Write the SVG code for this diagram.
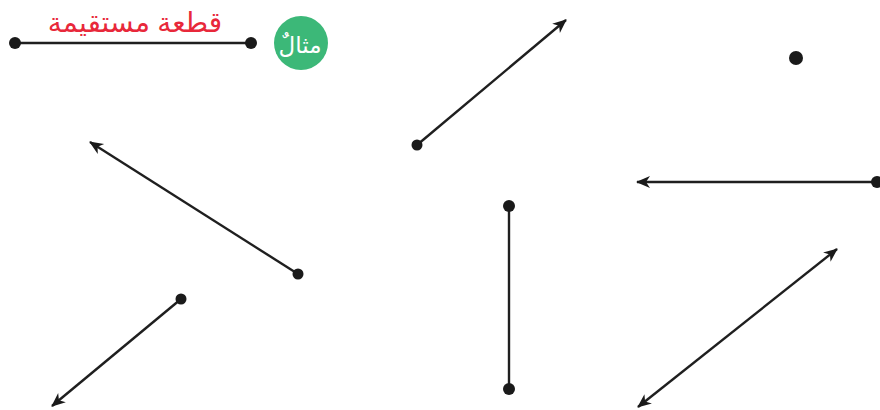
<svg xmlns="http://www.w3.org/2000/svg" width="880" height="410" viewBox="0 0 880 410">
<style>
.ln{stroke:#1f1f1f;stroke-width:2.4;fill:none}
.dot{fill:#1a1a1a}
</style>
<defs>
<marker id="ah" viewBox="-14 -7 16 14" markerWidth="16" markerHeight="14" refX="0" refY="0" orient="auto-start-reverse" markerUnits="userSpaceOnUse">
<path d="M1,0 L-13,-6 L-9,0 L-13,6 Z" fill="#1a1a1a"/>
</marker>
</defs>
<rect width="880" height="410" fill="#fff"/>
<g id="example">
<line class="ln" x1="15" y1="43" x2="251" y2="43"/>
<circle class="dot" cx="15" cy="43" r="6"/>
<circle class="dot" cx="251" cy="43" r="6"/>
<text x="135" y="32" text-anchor="middle" font-family="'Noto Sans','DejaVu Sans',sans-serif" font-size="28" fill="#e8283a">قطعة مستقيمة</text>
</g>
<g id="badge">
<circle cx="301" cy="43" r="27" fill="#3cb878"/>
<text x="300" y="53" text-anchor="middle" font-family="'Noto Sans','DejaVu Sans',sans-serif" font-size="23" fill="#fff">مثالٌ</text>
</g>
<g id="connectors">
<line class="ln" x1="298" y1="274" x2="90" y2="142" marker-end="url(#ah)"/>
<line class="ln" x1="417" y1="145" x2="566" y2="20" marker-end="url(#ah)"/>
<line class="ln" x1="877" y1="182" x2="637" y2="182" marker-end="url(#ah)"/>
<line class="ln" x1="509" y1="206" x2="509" y2="389"/>
<line class="ln" x1="181" y1="299" x2="52" y2="406" marker-end="url(#ah)"/>
<line class="ln" x1="638" y1="407" x2="837" y2="249" marker-start="url(#ah)" marker-end="url(#ah)"/>
</g>
<g id="point"><circle class="dot" cx="796" cy="58" r="7"/></g>
<g id="ray1"><circle class="dot" cx="298" cy="274" r="5.5"/></g>
<g id="ray2"><circle class="dot" cx="417" cy="145" r="5.5"/></g>
<g id="ray3"><circle class="dot" cx="877" cy="182" r="6"/></g>
<g id="segment"><circle class="dot" cx="509" cy="206" r="6"/><circle class="dot" cx="509" cy="389" r="6"/></g>
<g id="ray4"><circle class="dot" cx="181" cy="299" r="5.5"/></g>
</svg>
